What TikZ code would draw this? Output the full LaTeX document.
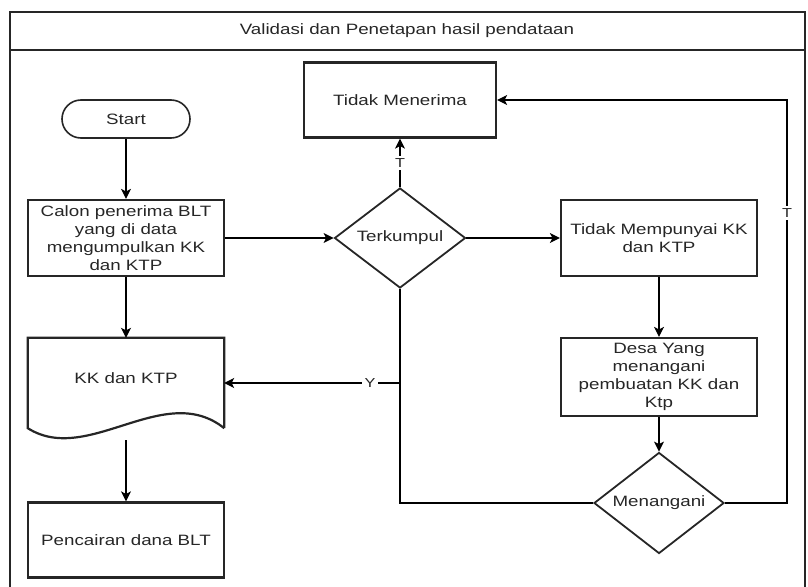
\documentclass[tikz,border=0pt]{standalone}
\usepackage{fontspec}
\setmainfont[FakeStretch=1.25]{Liberation Sans}
\usetikzlibrary{shapes.geometric,arrows.meta}

\begin{document}
\begin{tikzpicture}[x=1pt,y=-1pt]

\newcommand{\boxw}{196pt}
\tikzstyle{every node}=[font=\fontsize{15}{18}\selectfont,text=black!85]
\tikzstyle{proc}=[draw=black!85,line width=2.2pt,minimum width=\boxw,minimum height=76pt,align=center,inner sep=2pt]
\tikzstyle{dec}=[diamond,draw=black!85,line width=1.8pt,inner sep=0pt,shape aspect=1.3]
\tikzstyle{arr}=[line width=1.2pt,-{Stealth[length=10pt,width=10pt,inset=2.5pt]}]
\tikzstyle{lbl}=[fill=white,inner sep=2.5pt,font=\fontsize{13}{15}\selectfont]
  \useasboundingbox (0,0) rectangle (808,586);

  \draw[line width=2.2pt,draw=black!85] (10,600) -- (10,12) -- (805,12) -- (805,600);
  \draw[line width=2.2pt,draw=black!85] (10,50) -- (805,50);
  \node(judul) at (407,31) {Validasi dan Penetapan hasil pendataan};

  \node(start)[draw=black!85,line width=1.6pt,rounded corners=19pt,minimum width=128pt,minimum height=38pt] at (126,119) {Start};
  \node(calon)[proc] at (126,238) {Calon penerima BLT\\yang di data\\mengumpulkan KK\\dan KTP};
  \node(kk)[minimum width=\boxw,minimum height=90pt] at (126,383) {\raisebox{10pt}{KK dan KTP}};
  \draw[line width=2.2pt,draw=black!85] (kk.south east) -- (kk.north east) -- (kk.north west) -- (kk.south west)
    .. controls +(60,38) and +(-60,-48) .. (kk.south east);
  \coordinate(kkbot) at (126,440);
  \node(cair)[proc,minimum height=75pt] at (126,540) {Pencairan dana BLT};

  \node(tidak)[proc,minimum width=192pt,minimum height=75pt] at (400,100) {Tidak Menerima};
  \node(terkumpul)[dec,minimum width=131pt,minimum height=100pt] at (400,238) {Terkumpul};
  \node(tidakkk)[proc] at (659,238) {Tidak Mempunyai KK\\dan KTP};
  \node(desa)[proc,minimum height=78pt] at (659,377) {Desa Yang\\menangani\\pembuatan KK dan\\Ktp};
  \node(menangani)[dec,minimum width=130pt,minimum height=101pt] at (659,503) {Menangani};
  \coordinate(ybranch) at (400,383);
  \coordinate(rcorner) at (787,503);

  \path[arr]
    (start) edge (calon)
    (calon) edge (kk)
    (kkbot) edge (cair)
    (calon) edge (terkumpul)
    (terkumpul) edge (tidakkk)
    (tidakkk) edge (desa)
    (desa) edge (menangani);

  \draw[arr] (terkumpul) -- node[lbl]{T} (tidak);
  \draw[line width=1.2pt] (menangani.west) -| (terkumpul.south);
  \draw[arr] (ybranch) -- node[lbl,pos=0.17]{Y} (kk.east);
  \draw[arr] (menangani.east) -- (rcorner) |- node[lbl,pos=0.36]{T} (tidak.east);

\end{tikzpicture}
\end{document}
